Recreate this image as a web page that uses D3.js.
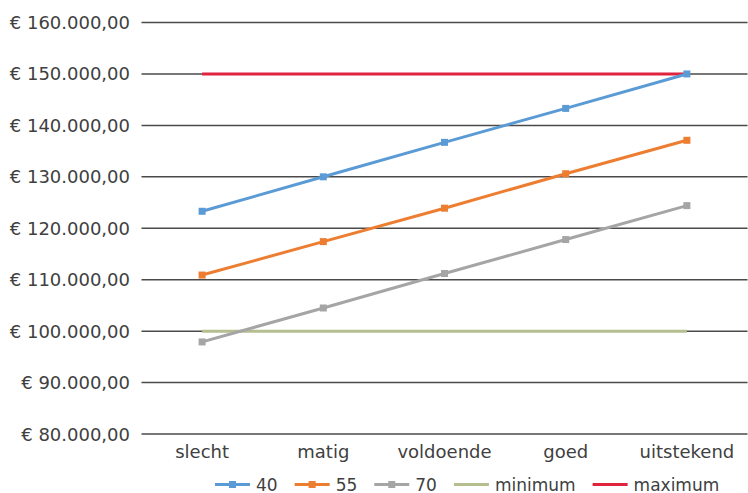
<!DOCTYPE html>
<html>
<head>
<meta charset="utf-8">
<script src="https://cdn.jsdelivr.net/npm/d3@7/dist/d3.min.js"></script>
<style>
  html, body { margin: 0; padding: 0; background: #fff; }
  svg { display: block; font-family: "DejaVu Sans", sans-serif; }
</style>
</head>
<body>
<svg id="chart" width="748" height="493"></svg>
<script>
const categories = ["slecht", "matig", "voldoende", "goed", "uitstekend"];
const series40 = [123300, 130000, 136700, 143300, 150000];
const series55 = [110900, 117400, 123900, 130600, 137100];
const series70 = [97900, 104500, 111200, 117800, 124400];
const seriesMinimum = [100000, 100000, 100000, 100000, 100000];
const seriesMaximum = [150000, 150000, 150000, 150000, 150000];
const yTicks = [80000, 90000, 100000, 110000, 120000, 130000, 140000, 150000, 160000];

const series = [
  { name: "40", values: series40, color: "#5B9BD5", marker: true },
  { name: "55", values: series55, color: "#ED7D31", marker: true },
  { name: "70", values: series70, color: "#A5A5A5", marker: true },
  { name: "minimum", values: seriesMinimum, color: "#B5BE8F", marker: false },
  { name: "maximum", values: seriesMaximum, color: "#E0233F", marker: false }
];
const drawOrder = [3, 4, 0, 1, 2];

const svg = d3.select("#chart");
const x = d3.scaleBand().domain(categories).range([141.5, 747.5]).padding(0);
const y = d3.scaleLinear().domain([80000, 160000]).range([434, 22.5]);

const fmt = v => "€ " + d3.format(",.2f")(v).replace(/,/g, "#").replace(/\./g, ",").replace(/#/g, ".");

// gridlines
const yAxis = d3.axisLeft(y).tickValues(yTicks).tickSize(0).tickFormat(fmt);
const gy = svg.append("g").attr("transform", "translate(130,0)").call(yAxis);
gy.select(".domain").remove();
gy.selectAll("text")
  .attr("x", 0).attr("dy", null).attr("dominant-baseline", null)
  .attr("y", 6)
  .style("font-size", "18px").style("fill", "#404040").style("font-family", "DejaVu Sans, sans-serif");

svg.append("g").selectAll("line").data(yTicks).join("line")
  .attr("x1", x.range()[0]).attr("x2", x.range()[1])
  .attr("y1", d => y(d)).attr("y2", d => y(d))
  .attr("stroke", "#4a4a4a").attr("stroke-width", 1.5);

// x axis labels
const xAxis = d3.axisBottom(x).tickSize(0);
const gx = svg.append("g").attr("transform", "translate(0,434)").call(xAxis);
gx.select(".domain").remove();
gx.selectAll("text")
  .attr("dy", null).attr("y", 24)
  .style("font-size", "18px").style("fill", "#404040").style("font-family", "DejaVu Sans, sans-serif");

const line = d3.line().x((d, i) => x(categories[i]) + x.bandwidth() / 2).y(d => y(d));

drawOrder.forEach(k => {
  const s = series[k];
  svg.append("path").datum(s.values)
    .attr("d", line).attr("fill", "none")
    .attr("stroke", s.color).attr("stroke-width", 3).attr("stroke-linecap", "butt");
  if (s.marker) {
    svg.append("g").selectAll("rect").data(s.values).join("rect")
      .attr("x", (d, i) => x(categories[i]) + x.bandwidth() / 2 - 3.5)
      .attr("y", d => y(d) - 3.5)
      .attr("width", 7).attr("height", 7)
      .attr("fill", s.color);
  }
});

// legend
const lg = svg.append("g");
let lx = 215;
const ly = 484.5;
series.forEach(s => {
  const g = lg.append("g");
  g.append("line").attr("x1", lx).attr("x2", lx + 35).attr("y1", ly).attr("y2", ly)
    .attr("stroke", s.color).attr("stroke-width", 3);
  if (s.marker) {
    g.append("rect").attr("x", lx + 17.5 - 3.5).attr("y", ly - 3.5).attr("width", 7).attr("height", 7).attr("fill", s.color);
  }
  const t = g.append("text").attr("x", lx + 41).attr("y", ly + 6)
    .style("font-size", "17px").style("fill", "#404040").text(s.name);
  const w = t.node().getComputedTextLength();
  lx = lx + 41 + w + 17;
});
</script>
</body>
</html>
